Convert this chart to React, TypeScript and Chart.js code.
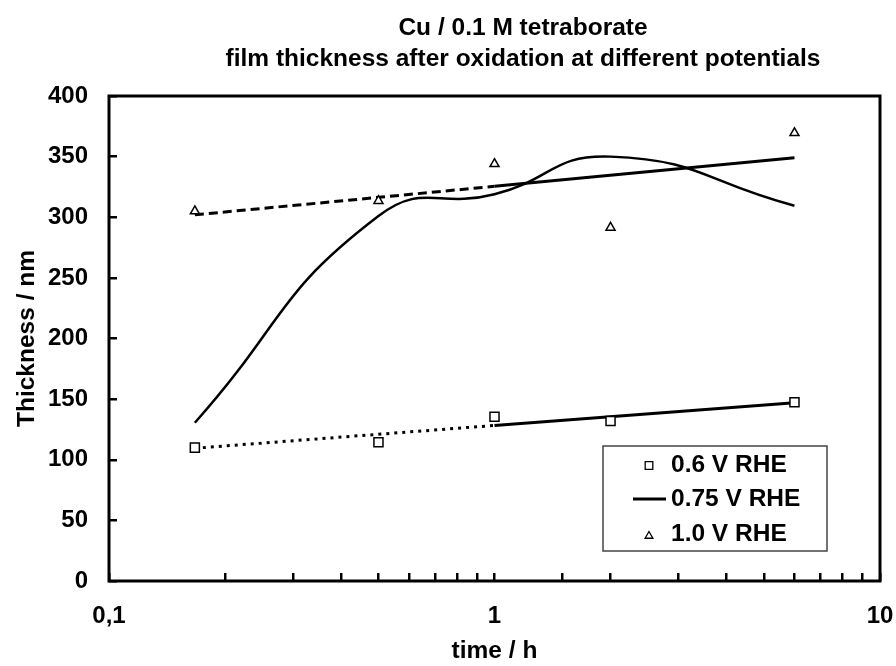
import React, { useEffect, useRef } from 'react';
import { Chart, registerables } from 'chart.js';
import { drawPoint } from 'chart.js/helpers';

Chart.register(...registerables);

// ---- data ----
const times = [0.167, 0.5, 1, 2, 6];
const thick06 = [110, 114.5, 135.5, 132, 147.5];
const thick075 = [130.5, 301, 319, 350, 309.5];
const thick10 = [305, 313.5, 344, 291.5, 369.5];
const trendTimes = [0.167, 1, 6];
const trend06 = [109.5, 128.3, 147];
const trend10 = [302, 325.5, 349];
const seriesLabels = ['0.6 V RHE', '0.75 V RHE', '1.0 V RHE'];
const xTickLabels = ['0,1', '1', '10'];
const titleLines = ['Cu / 0.1 M tetraborate', 'film thickness after oxidation at different potentials'];
const xAxisTitle = 'time / h';
const yAxisTitle = 'Thickness / nm';

const FONT = '"Liberation Sans", Arial, sans-serif';

const pts = (xs: number[], ys: number[]) => xs.map((x, i) => ({ x, y: ys[i] }));

const titlePlugin = {
  id: 'offsetTitle',
  afterDraw(chart: any) {
    const { ctx } = chart;
    ctx.save();
    ctx.fillStyle = '#000';
    ctx.font = `bold 24.5px ${FONT}`;
    ctx.textAlign = 'center';
    ctx.textBaseline = 'middle';
    ctx.fillText(titleLines[0], 523, 28);
    ctx.fillText(titleLines[1], 523, 59);
    ctx.restore();
  },
};

const framePlugin = {
  id: 'frame',
  afterDatasetsDraw(chart: any) {
    const { ctx, chartArea: a } = chart;
    ctx.save();
    ctx.strokeStyle = '#000';
    ctx.lineWidth = 3;
    ctx.strokeRect(a.left, a.top, a.right - a.left, a.bottom - a.top);

    // legend box
    const w = 224, h = 105;
    const x0 = a.right - 53 - w;
    const y0 = a.bottom - 30 - h;
    ctx.fillStyle = '#fff';
    ctx.fillRect(x0, y0, w, h);
    ctx.strokeStyle = '#444';
    ctx.lineWidth = 1.5;
    ctx.strokeRect(x0, y0, w, h);
    const rows = [19.5, 53, 88];
    ctx.font = `bold 24.5px ${FONT}`;
    ctx.textAlign = 'left';
    ctx.textBaseline = 'middle';
    rows.forEach((ry, i) => {
      const cy = y0 + ry;
      if (i === 1) {
        ctx.strokeStyle = '#000';
        ctx.lineWidth = 3;
        ctx.beginPath();
        ctx.moveTo(x0 + 30, cy);
        ctx.lineTo(x0 + 63, cy);
        ctx.stroke();
      } else {
        ctx.strokeStyle = '#000';
        ctx.fillStyle = '#fff';
        ctx.lineWidth = 1.3;
        drawPoint(ctx, { pointStyle: i === 0 ? 'rect' : 'triangle', radius: i === 0 ? 5.4 : 4.5, rotation: 0, borderWidth: 1.3 } as any, x0 + 46, cy + (i === 2 ? 2 : 0));
      }
      ctx.fillStyle = '#000';
      ctx.fillText(seriesLabels[i], x0 + 68, cy);
    });
    ctx.restore();
  },
};

export default function App() {
  const ref = useRef<HTMLCanvasElement>(null);
  useEffect(() => {
    if (!ref.current) return;
    const chart = new Chart(ref.current, {
      type: 'line',
      data: {
        datasets: [
          {
            label: seriesLabels[0],
            data: pts(times, thick06),
            showLine: false,
            pointStyle: 'rect',
            pointRadius: 6.4,
            pointBorderWidth: 1.5,
            pointBorderColor: '#000',
            pointBackgroundColor: '#fff',
          },
          {
            label: seriesLabels[1],
            data: pts(times, thick075),
            borderColor: '#000',
            borderWidth: 2.5,
            pointRadius: 0,
            tension: 0.5,
            fill: false,
          },
          {
            label: seriesLabels[2],
            data: pts(times, thick10),
            showLine: false,
            pointStyle: 'triangle',
            pointRadius: 5.2,
            pointBorderWidth: 1.5,
            pointBorderColor: '#000',
            pointBackgroundColor: '#fff',
          },
          {
            label: 'trend 0.6',
            data: pts(trendTimes, trend06),
            borderColor: '#000',
            borderWidth: 3,
            pointRadius: 0,
            tension: 0,
            segment: { borderDash: (c: any) => (c.p0.parsed.x < 0.99 ? [3, 5] : undefined) },
          },
          {
            label: 'trend 1.0',
            data: pts(trendTimes, trend10),
            borderColor: '#000',
            borderWidth: 3,
            pointRadius: 0,
            tension: 0,
            segment: { borderDash: (c: any) => (c.p0.parsed.x < 0.99 ? [9, 5] : undefined) },
          },
        ],
      },
      options: {
        animation: false,
        responsive: true,
        maintainAspectRatio: false,
        layout: { padding: { top: 96, right: 16, left: 0, bottom: 0 } },
        plugins: {
          legend: { display: false },
          title: { display: false },
          tooltip: { enabled: false },
        },
        scales: {
          x: {
            type: 'logarithmic',
            min: 0.1,
            max: 10,
            border: { display: false },
            grid: { drawOnChartArea: false, drawTicks: true, tickLength: -8, color: '#000', lineWidth: 2.5 },
            ticks: {
              autoSkip: false,
              maxRotation: 0,
              padding: 29,
              color: '#000',
              font: { family: FONT, size: 24, weight: 'bold' },
              callback: (v: any) => {
                const e = Math.log10(Number(v));
                if (Math.abs(e - Math.round(e)) < 1e-6) {
                  const idx = Math.round(e) + 1;
                  return xTickLabels[idx] ?? '';
                }
                return '';
              },
            },
            title: {
              display: true,
              text: xAxisTitle,
              color: '#000',
              font: { family: FONT, size: 24.5, weight: 'bold' },
              padding: { top: 0, bottom: 0 },
            },
            afterFit: (s: any) => { s.height = 85; s.paddingRight = 0; s.paddingLeft = 0; },
          },
          y: {
            min: 0,
            max: 400,
            border: { display: false },
            grid: { drawOnChartArea: false, drawTicks: true, tickLength: -8, color: '#000', lineWidth: 2.5 },
            ticks: {
              stepSize: 50,
              padding: 29,
              color: '#000',
              font: { family: FONT, size: 24, weight: 'bold' },
            },
            title: {
              display: true,
              text: yAxisTitle,
              color: '#000',
              font: { family: FONT, size: 24.5, weight: 'bold' },
              padding: { top: 13, bottom: 0 },
            },
            afterFit: (s: any) => { s.width = 109; s.paddingTop = 0; s.paddingBottom = 0; },
          },
        },
      } as any,
      plugins: [titlePlugin, framePlugin],
    });
    return () => chart.destroy();
  }, []);
  return (
    <div style={{ position: 'absolute', left: 0, top: 0, width: 896, height: 666, background: '#fff' }}>
      <canvas ref={ref} />
    </div>
  );
}
